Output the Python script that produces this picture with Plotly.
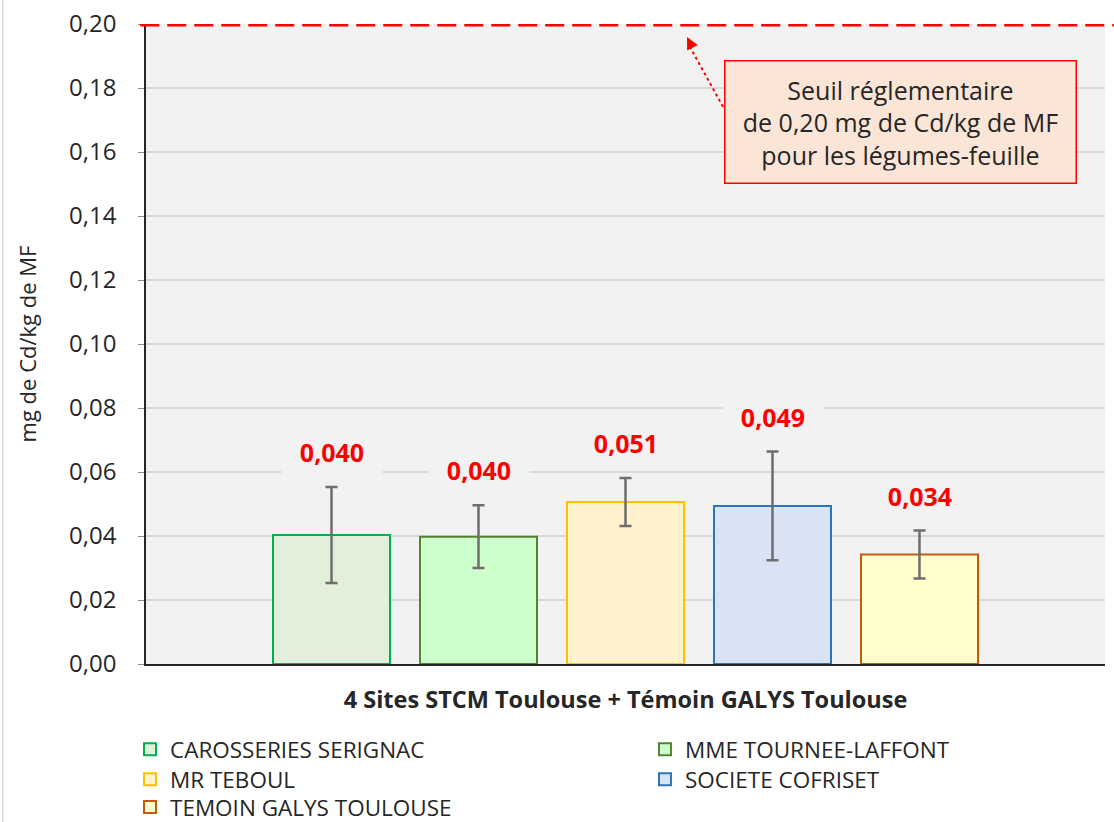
import plotly.graph_objects as go

category = "4 Sites STCM Toulouse + Témoin GALYS Toulouse"
series_names = ["CAROSSERIES SERIGNAC", "MME TOURNEE-LAFFONT", "MR TEBOUL",
                "SOCIETE COFRISET", "TEMOIN GALYS TOULOUSE"]
means = [0.0403, 0.0398, 0.0506, 0.0494, 0.0342]
errors = [0.0150, 0.0098, 0.0075, 0.0170, 0.0075]
threshold = 0.20
y_ticks = [0.00, 0.02, 0.04, 0.06, 0.08, 0.10, 0.12, 0.14, 0.16, 0.18, 0.20]

fills = ["#E2EFDA", "#CCFFCC", "#FFF2CC", "#DAE3F3", "#FFFFCC"]
borders = ["#00B050", "#548235", "#FFC000", "#2E75B6", "#C55A11"]
# legend grid: two columns, three rows (one legend box per entry)
legend_ids = ["legend", "legend2", "legend3", "legend4", "legend5"]
legend_x = [-0.0167, 0.5203, -0.0167, 0.5203, -0.0167]
legend_y = [-0.1, -0.1, -0.1469, -0.1469, -0.1906]

FONT = "Open Sans"
fig = go.Figure()
for i, name in enumerate(series_names):
    fig.add_trace(go.Bar(
        name=name, x=[category], y=[means[i]],
        marker=dict(color=fills[i], line=dict(color=borders[i], width=2)),
        error_y=dict(type="data", array=[errors[i]], color="#6E6E6E",
                     thickness=2.5, width=6),
        legend=legend_ids[i], hoverinfo="skip",
    ))

# value labels
n = len(series_names)
for i in range(n):
    fig.add_annotation(
        x=category, y=means[i] + errors[i], xref="x", yref="y",
        text=f"{means[i]:.3f}".replace(".", ","), showarrow=False,
        font=dict(family=FONT, size=25, color="#FF0000", weight="bold"),
        bgcolor="#F2F2F2", width=92, borderpad=4,
        xshift=(i - (n - 1) / 2) * 147, yshift=35, yanchor="middle",
    )

# threshold line
fig.add_shape(type="line", xref="paper", yref="y", x0=-0.006, x1=1.02,
              y0=threshold, y1=threshold,
              line=dict(color="#FF0000", width=5, dash="19px,8px"))

# threshold callout
fig.add_annotation(
    xref="paper", yref="y", x=0.787, y=0.1695,
    text="Seuil réglementaire<br>de 0,20 mg de Cd/kg de MF<br>pour les légumes-feuille",
    showarrow=False, font=dict(family=FONT, size=25, color="#262626"),
    bgcolor="#FBE5D6", bordercolor="#FF0000", borderwidth=1.5,
    width=326, height=97, borderpad=12, xanchor="center", yanchor="middle",
)
# dotted arrow shaft
fig.add_shape(type="line", xref="paper", yref="y", x0=0.6017, y0=0.1741,
              x1=0.566, y1=0.1935, line=dict(color="#FF0000", width=2, dash="dot"))
fig.add_annotation(xref="paper", yref="y", x=0.5641, y=0.1959, text="",
                   showarrow=True, arrowhead=2, arrowsize=1.2, arrowwidth=2,
                   arrowcolor="#FF0000", ax=4.6, ay=8.9)

# left frame edge
fig.add_shape(type="line", xref="paper", yref="paper", x0=-0.1495, x1=-0.1495,
              y0=-0.25, y1=1.04, line=dict(color="#D9D9D9", width=1.5))

legend_font = dict(family=FONT, size=22.5, color="#262626")
legends = {}
for i, lid in enumerate(legend_ids):
    legends[lid] = dict(x=legend_x[i], y=legend_y[i], xanchor="left", yanchor="top",
                        orientation="v", font=legend_font,
                        bgcolor="rgba(0,0,0,0)", itemwidth=30)

fig.update_layout(
    width=1114, height=822,
    margin=dict(l=146, r=9, t=24, b=158, autoexpand=False),
    paper_bgcolor="white", plot_bgcolor="#F2F2F2",
    separators=", ",
    barmode="group", bargap=0.2336, bargroupgap=0.204,
    font=dict(family=FONT, color="#262626"),
    showlegend=True,
    **legends,
)
fig.update_xaxes(
    type="category", showline=True, linecolor="#262626", linewidth=2,
    ticks="", showgrid=False, automargin=False,
    tickfont=dict(family=FONT, size=23.5, color="#262626", weight="bold"),
    ticklabelstandoff=14,
)
fig.update_yaxes(
    range=[0, threshold], tickvals=y_ticks, tickformat=".2f",
    showline=True, linecolor="#262626", linewidth=1.5, automargin=False,
    ticks="outside", ticklen=6, tickcolor="#8C8C8C",
    showgrid=True, gridcolor="#D9D9D9", gridwidth=2,
    tickfont=dict(family=FONT, size=24, color="#262626"),
    ticklabelstandoff=17,
    title=dict(text="mg de Cd/kg de MF", font=dict(family=FONT, size=22, color="#262626"),
               standoff=26),
    zeroline=False,
)

fig.write_html("out.html", config={"displayModeBar": False},
               post_script="document.body.style.margin='0px';")
